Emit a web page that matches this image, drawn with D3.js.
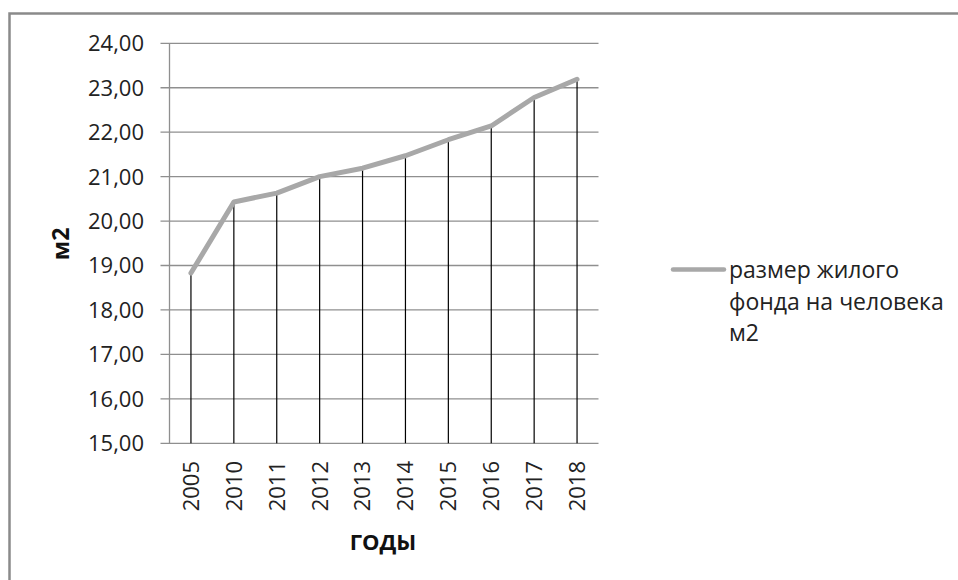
<!DOCTYPE html>
<html>
<head>
<meta charset="utf-8">
<script src="https://cdn.jsdelivr.net/npm/d3@7"></script>
<style>
  html, body { margin: 0; padding: 0; background: #fff; }
  svg { display: block; font-family: "Open Sans", "Noto Sans", sans-serif; }
</style>
</head>
<body>
<svg id="chart" width="958" height="580"></svg>
<script>
// Housing stock per person, m2
const years = ["2005", "2010", "2011", "2012", "2013", "2014", "2015", "2016", "2017", "2018"];
const values = [18.83, 20.43, 20.63, 21.00, 21.19, 21.47, 21.83, 22.14, 22.78, 23.19];
const yTicks = [15, 16, 17, 18, 19, 20, 21, 22, 23, 24];
const seriesName = ["размер жилого", "фонда на человека", "м2"];
const xTitle = "ГОДЫ";
const yTitle = "м2";

const svg = d3.select("#chart");

// outer chart frame
svg.append("rect")
  .attr("x", 9.5).attr("y", 13.5)
  .attr("width", 960).attr("height", 580)
  .attr("fill", "none")
  .attr("stroke", "#8a8a8a")
  .attr("stroke-width", 2.5);

const plot = { left: 169.5, right: 598.5, top: 43.3, bottom: 443.3 };

const x = d3.scaleBand().domain(years).range([plot.left, plot.right]).padding(0);
const y = d3.scaleLinear().domain([15, 24]).range([plot.bottom, plot.top]);

// horizontal gridlines with tick stubs to the left of the axis
svg.append("g").selectAll("line")
  .data(yTicks)
  .join("line")
  .attr("x1", plot.left - 9).attr("x2", plot.right)
  .attr("y1", d => y(d)).attr("y2", d => y(d))
  .attr("stroke", "#8f8f8f")
  .attr("stroke-width", 1.3);

// vertical axis line
svg.append("line")
  .attr("x1", plot.left).attr("x2", plot.left)
  .attr("y1", y(24)).attr("y2", y(15))
  .attr("stroke", "#8f8f8f")
  .attr("stroke-width", 1.3);

// y tick labels
const fmt = d => d.toFixed(2).replace(".", ",");
svg.append("g").selectAll("text")
  .data(yTicks)
  .join("text")
  .attr("x", 144)
  .attr("y", d => y(d))
  .attr("dy", "0.36em")
  .attr("text-anchor", "end")
  .attr("font-size", 22)
  .attr("fill", "#222")
  .text(fmt);

// drop lines from each point to the category axis
const cx = d => x(d) + x.bandwidth() / 2;
svg.append("g").selectAll("line")
  .data(years)
  .join("line")
  .attr("x1", d => cx(d)).attr("x2", d => cx(d))
  .attr("y1", (d, i) => y(values[i])).attr("y2", y(15))
  .attr("stroke", "#000")
  .attr("stroke-width", 1.2);

// series line
const line = d3.line()
  .x((d, i) => cx(years[i]))
  .y(d => y(d));
svg.append("path")
  .datum(values)
  .attr("d", line)
  .attr("fill", "none")
  .attr("stroke", "#a8a8a8")
  .attr("stroke-width", 5)
  .attr("stroke-linejoin", "round")
  .attr("stroke-linecap", "round");

// category labels, rotated
svg.append("g").selectAll("text")
  .data(years)
  .join("text")
  .attr("transform", d => `translate(${cx(d)},461) rotate(-90)`)
  .attr("dy", "0.36em")
  .attr("text-anchor", "end")
  .attr("font-size", 22)
  .attr("fill", "#222")
  .text(d => d);

// axis titles
svg.append("text")
  .attr("x", 383).attr("y", 550)
  .attr("text-anchor", "middle")
  .attr("font-size", 22)
  .attr("font-weight", "bold")
  .attr("fill", "#111")
  .text(xTitle);

svg.append("text")
  .attr("transform", "translate(61,244) rotate(-90)")
  .attr("dy", "0.36em")
  .attr("text-anchor", "middle")
  .attr("font-size", 23)
  .attr("font-weight", "bold")
  .attr("fill", "#111")
  .text(yTitle);

// legend
const legend = svg.append("g");
legend.append("line")
  .attr("x1", 673).attr("x2", 724)
  .attr("y1", 269.5).attr("y2", 269.5)
  .attr("stroke", "#a8a8a8")
  .attr("stroke-width", 4.5)
  .attr("stroke-linecap", "round");
legend.selectAll("text")
  .data(seriesName)
  .join("text")
  .attr("x", 729)
  .attr("y", (d, i) => 278 + i * 31.5)
  .attr("font-size", 23)
  .attr("fill", "#222")
  .text(d => d);
</script>
</body>
</html>
